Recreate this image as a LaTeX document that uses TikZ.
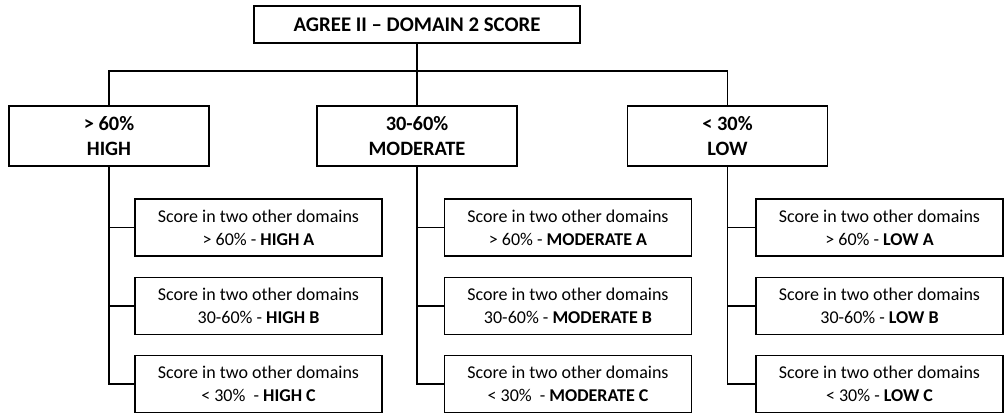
\documentclass[tikz,border=0pt]{standalone}
\usepackage{fontspec}
\setmainfont{Carlito}
\begin{document}
\begin{tikzpicture}[x=0.5pt, y=-0.5pt, line width=0.9pt,
    topbox/.style = {draw, minimum width=163pt, minimum height=18.5pt, inner sep=0pt, font=\fontsize{10.4}{12.5}\selectfont\bfseries},
    levelbox/.style = {draw, minimum width=100pt, minimum height=30pt, inner sep=0pt, align=center, font=\fontsize{10.2}{12.5}\selectfont\bfseries},
    subbox/.style = {draw, minimum width=123.5pt, minimum height=28.5pt, inner sep=0pt, align=center, font=\fontsize{9}{11.5}\selectfont}]
    \useasboundingbox (0,0) rectangle (1004,414);
    \node (top) at (417,24.5) [topbox]{AGREE II -- DOMAIN 2 SCORE};
    \coordinate (bar) at (417,71);
    \node (high) at (109,136) [levelbox]{> 60\%\\HIGH};
    \node (mod) at (417,136) [levelbox]{30-60\%\\MODERATE};
    \node (low) at (727.5,136) [levelbox]{< 30\%\\LOW};
    \node (high-a) at (258.5,227.5) [subbox]{Score in two other domains\\> 60\% - \textbf{HIGH A}};
    \node (high-b) at (258.5,306) [subbox]{Score in two other domains\\30-60\% - \textbf{HIGH B}};
    \node (high-c) at (258.5,384) [subbox]{Score in two other domains\\< 30\%\ \ - \textbf{HIGH C}};
    \node (mod-a) at (568,227.5) [subbox]{Score in two other domains\\> 60\% - \textbf{MODERATE A}};
    \node (mod-b) at (568,306) [subbox]{Score in two other domains\\30-60\% - \textbf{MODERATE B}};
    \node (mod-c) at (568,384) [subbox]{Score in two other domains\\< 30\%\ \ - \textbf{MODERATE C}};
    \node (low-a) at (879.5,227.5) [subbox]{Score in two other domains\\> 60\% - \textbf{LOW A}};
    \node (low-b) at (879.5,306) [subbox]{Score in two other domains\\30-60\% - \textbf{LOW B}};
    \node (low-c) at (879.5,384) [subbox]{Score in two other domains\\< 30\% - \textbf{LOW C}};
    \draw (top) -- (bar);
    \draw (high) |- (bar) -| (low);
    \draw (bar) -- (mod);
    \foreach \g in {high, mod, low}
        \foreach \s in {a, b, c}
            \draw (\g) |- (\g-\s);
\end{tikzpicture}
\end{document}
